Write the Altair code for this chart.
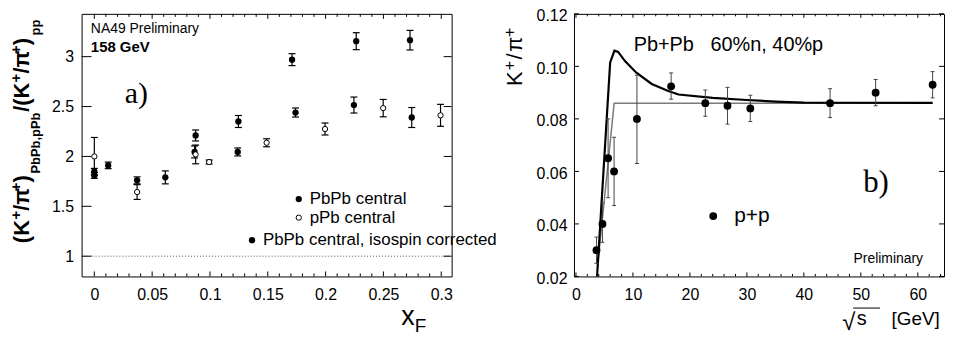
import altair as alt
import pandas as pd

FONT = "Liberation Sans"
SERIF = "Liberation Serif"
NB = "\u00a0"

# ---------------- panel a) data : (K+/pi+) ratio vs x_F ----------------
pbpb_x = [0.0, 0.037, 0.0876, 0.1246, 0.171, 0.2265, 0.273]
pbpb_y = [1.85, 1.76, 2.21, 2.35, 2.97, 3.155, 3.165]
pbpb_e = [0.03, 0.035, 0.055, 0.06, 0.06, 0.085, 0.098]

iso_x = [0.0, 0.012, 0.0614, 0.0867, 0.124, 0.174, 0.2245, 0.2745]
iso_y = [1.81, 1.91, 1.79, 2.045, 2.045, 2.44, 2.515, 2.39]
iso_e = [0.03, 0.033, 0.065, 0.06, 0.04, 0.045, 0.08, 0.1]

ppb_x = [0.0, 0.037, 0.0876, 0.0993, 0.149, 0.1995, 0.2498, 0.2994]
ppb_y = [2.0, 1.643, 2.02, 1.944, 2.137, 2.275, 2.484, 2.412]
ppb_e = [0.19, 0.074, 0.094, 0.02, 0.04, 0.06, 0.087, 0.11]

ref_line = [1.0]

# ---------------- panel b) data : K+/pi+ in p+p vs sqrt(s) ----------------
pp_x = [3.6, 4.65, 5.64, 6.69, 10.7, 16.7, 22.7, 26.6, 30.6, 44.6, 52.6, 62.6]
pp_y = [0.030, 0.040, 0.065, 0.060, 0.080, 0.0924, 0.086, 0.085, 0.084, 0.086, 0.090, 0.093]
pp_lo = [0.025, 0.033, 0.050, 0.047, 0.063, 0.0875, 0.081, 0.078, 0.079, 0.0805, 0.085, 0.088]
pp_hi = [0.035, 0.048, 0.080, 0.073, 0.0966, 0.0975, 0.091, 0.092, 0.089, 0.0915, 0.095, 0.098]

model_x = [3.7, 6.0, 6.75, 7.4, 8.6, 10.6, 13.3, 16.2, 18.0, 24.0, 30.0, 35.0, 40.0, 62.6]
model_y = [0.020, 0.1015, 0.106, 0.1055, 0.102, 0.0976, 0.0933, 0.0906, 0.0893,
           0.0880, 0.0872, 0.0866, 0.0862, 0.0861]
step_x = [3.8, 6.7, 62.6]
step_y = [0.024, 0.086, 0.086]

# ---------------- tick values ----------------
xa_major = [0, 0.05, 0.1, 0.15, 0.2, 0.25, 0.3]
xa_minor = [round(0.01 * i, 2) for i in range(1, 31) if i % 5 != 0]
ya_major = [1, 1.5, 2, 2.5, 3]
xb_major = [0, 10, 20, 30, 40, 50, 60]
xb_minor = [i for i in range(2, 65, 2) if i % 10 != 0]
yb_major = [0.02, 0.04, 0.06, 0.08, 0.10, 0.12]

W, H = 372, 264
A_LEFT, A_TOP, A_H = 80.7, 9.0, 268.0     # reference geometry of panel a
B_LEFT, B_TOP, B_H = 575.3, 8.3, 268.4    # reference geometry of panel b


def xa(px):
    return px - A_LEFT


def ya(py):
    return (py - A_TOP) * H / A_H


def xb(px):
    return px - B_LEFT


def yb(py):
    return (py - B_TOP) * H / B_H


sxa = alt.Scale(domain=[-0.011, 0.309], nice=False, zero=False)
sya = alt.Scale(domain=[0.797, 3.429], nice=False, zero=False)
sxb = alt.Scale(domain=[-0.35, 64.6], nice=False, zero=False)
syb = alt.Scale(domain=[0.02, 0.12], nice=False, zero=False)

common_axis = dict(title=None, ticks=False, tickSize=0, domain=False, grid=False,
                   labelFont=FONT, labelFontSize=16, labelColor="black",
                   labelFlush=False, labelOverlap=False)
axxa = alt.Axis(values=xa_major, format=".2~f", labelPadding=10, **common_axis)
axya = alt.Axis(values=ya_major, format=".1~f", labelPadding=8, **common_axis)
axxb = alt.Axis(values=xb_major, format="d", labelPadding=10, **common_axis)
axyb = alt.Axis(values=yb_major, format=".2f", labelPadding=7, labelOffset=2, **common_axis)


def XA(f):
    return alt.X(f, type="quantitative", scale=sxa, axis=axxa)


def YA(f):
    return alt.Y(f, type="quantitative", scale=sya, axis=axya)


def XB(f):
    return alt.X(f, type="quantitative", scale=sxb, axis=axxb)


def YB(f):
    return alt.Y(f, type="quantitative", scale=syb, axis=axyb)


def one():
    return alt.Data(values=[{}])


def txt(text, x, y, size, font=FONT, weight="normal", angle=0, baseline="middle", align="left"):
    kw = dict(text=text, font=font, fontSize=size, fontWeight=weight, color="black",
              align=align, baseline=baseline)
    if angle:
        kw["angle"] = angle
    return alt.Chart(one()).mark_text(**kw).encode(x=alt.value(x), y=alt.value(y))


def errbars(df, X, Y, color, cap, sw=1.0):
    rule = alt.Chart(df).mark_rule(color=color, strokeWidth=sw).encode(
        x=X("x"), y=Y("lo"), y2=alt.Y2("hi"))
    lo = alt.Chart(df).mark_tick(orient="horizontal", size=cap, thickness=sw, color=color,
                                 opacity=1).encode(x=X("x"), y=Y("lo"))
    hi = alt.Chart(df).mark_tick(orient="horizontal", size=cap, thickness=sw, color=color,
                                 opacity=1).encode(x=X("x"), y=Y("hi"))
    return [rule, lo, hi]


def ticks_x(vals, X, length):
    df = pd.DataFrame({"t": vals})
    bot = alt.Chart(df).mark_rule(color="black", strokeWidth=1).encode(
        x=X("t"), y=alt.value(H), y2=alt.value(H - length))
    top = alt.Chart(df).mark_rule(color="black", strokeWidth=1).encode(
        x=X("t"), y=alt.value(0), y2=alt.value(length))
    return [bot, top]


def ticks_y(vals, Y, left_len, right_len):
    df = pd.DataFrame({"t": vals})
    lft = alt.Chart(df).mark_rule(color="black", strokeWidth=1).encode(
        y=Y("t"), x=alt.value(0), x2=alt.value(left_len))
    rgt = alt.Chart(df).mark_rule(color="black", strokeWidth=1).encode(
        y=Y("t"), x=alt.value(W), x2=alt.value(W - right_len))
    return [lft, rgt]


# ================= panel a =================
d_pbpb = pd.DataFrame({"x": pbpb_x, "y": pbpb_y,
                       "lo": [v - e for v, e in zip(pbpb_y, pbpb_e)],
                       "hi": [v + e for v, e in zip(pbpb_y, pbpb_e)]})
d_iso = pd.DataFrame({"x": iso_x, "y": iso_y,
                      "lo": [v - e for v, e in zip(iso_y, iso_e)],
                      "hi": [v + e for v, e in zip(iso_y, iso_e)]})
d_ppb = pd.DataFrame({"x": ppb_x, "y": ppb_y,
                      "lo": [v - e for v, e in zip(ppb_y, ppb_e)],
                      "hi": [v + e for v, e in zip(ppb_y, ppb_e)]})

layers_a = []
layers_a.append(alt.Chart(pd.DataFrame({"v": ref_line})).mark_rule(
    color="#555", strokeWidth=1, strokeDash=[1, 2]).encode(
    y=YA("v"), x=alt.value(2), x2=alt.value(W - 2)))
layers_a += ticks_x(xa_major, XA, 5) + ticks_x(xa_minor, XA, 3)
layers_a += ticks_y(ya_major, YA, 10, 8)
for d in (d_pbpb, d_iso, d_ppb):
    layers_a += errbars(d, XA, YA, "black", 7, 1.2)
layers_a.append(alt.Chart(d_pbpb).mark_circle(color="black", opacity=1, size=40).encode(
    x=XA("x"), y=YA("y")))
layers_a.append(alt.Chart(d_iso).mark_circle(color="black", opacity=1, size=40).encode(
    x=XA("x"), y=YA("y")))
layers_a.append(alt.Chart(d_ppb).mark_point(shape="circle", filled=True, fill="white",
                                            stroke="black", strokeWidth=1, opacity=1,
                                            size=28).encode(x=XA("x"), y=YA("y")))
# annotations
layers_a.append(txt("NA49 Preliminary", xa(90), ya(24), 14))
layers_a.append(txt("158 GeV", xa(90), ya(43), 15, weight="bold"))
layers_a.append(txt("a)", xa(124), ya(100), 30, font=SERIF, baseline="alphabetic"))
# legend
layers_a.append(alt.Chart(one()).mark_circle(color="black", opacity=1, size=40).encode(
    x=alt.value(xa(299)), y=alt.value(ya(198))))
layers_a.append(alt.Chart(one()).mark_point(shape="circle", filled=True, fill="white",
                                            stroke="black", strokeWidth=1, opacity=1,
                                            size=28).encode(
    x=alt.value(xa(299)), y=alt.value(ya(217))))
layers_a.append(alt.Chart(one()).mark_circle(color="black", opacity=1, size=40).encode(
    x=alt.value(xa(252)), y=alt.value(ya(240))))
layers_a.append(txt("PbPb central", xa(310), ya(198), 17))
layers_a.append(txt("pPb central", xa(310), ya(217), 17))
layers_a.append(txt("PbPb central, isospin corrected", xa(263), ya(240), 17))
# y title pieces (rotated)
MB, SB, UB = xa(28), xa(39), xa(19.5)
for t, base, ystart, size in [
    ("(K", MB, 243, 22), ("+", UB, 219, 15), ("/\u03c0", MB, 210, 22), ("+", UB, 190, 15),
    (")", MB, 181, 22), ("PbPb,pPb", SB, 172, 13),
    ("/(K", MB, 109, 22), ("+", UB, 79, 15), ("/\u03c0", MB, 70, 22), ("+", UB, 50, 15),
    (")", MB, 41, 22), ("pp", SB, 31, 13)]:
    layers_a.append(txt(t, base, ya(ystart), size, weight="bold", angle=270,
                        baseline="alphabetic"))
# x title
layers_a.append(txt("x", xa(402), ya(327), 27, baseline="alphabetic"))
layers_a.append(txt("F", xa(415.5), ya(334), 19, baseline="alphabetic"))

panel_a = alt.layer(*layers_a).properties(width=W, height=H)

# ================= panel b =================
d_pp = pd.DataFrame({"x": pp_x, "y": pp_y, "lo": pp_lo, "hi": pp_hi})
d_model = pd.DataFrame({"x": model_x, "y": model_y})
d_step = pd.DataFrame({"x": step_x, "y": step_y})

layers_b = []
layers_b += ticks_x(xb_major, XB, 4) + ticks_x(xb_minor, XB, 2.5)
layers_b += ticks_y(yb_major, YB, 5, 5)
layers_b.append(alt.Chart(d_step).mark_line(color="#7a7a7a", strokeWidth=1.5).encode(
    x=XB("x"), y=YB("y")))
layers_b.append(alt.Chart(d_model).mark_line(color="black", strokeWidth=2.2).encode(
    x=XB("x"), y=YB("y")))
layers_b += errbars(d_pp, XB, YB, "#444", 4, 1)
layers_b.append(alt.Chart(d_pp).mark_circle(color="black", opacity=1, size=62).encode(
    x=XB("x"), y=YB("y")))
layers_b.append(txt("Pb+Pb" + NB * 3 + "60%n, 40%p", xb(635.3), yb(40), 20))
layers_b.append(txt("b)", xb(866), yb(190), 31, font=SERIF, baseline="alphabetic"))
layers_b.append(alt.Chart(one()).mark_circle(color="black", opacity=1, size=62).encode(
    x=alt.value(xb(715.3)), y=alt.value(yb(215))))
layers_b.append(txt("p+p", xb(736.3), yb(215), 21))
layers_b.append(txt("Preliminary", xb(856.3), yb(259.3), 14))
# y title pieces
BM, BU = xb(523), xb(516)
for t, base, ystart, size in [("K", BM, 82, 22), ("+", BU, 66, 16), ("/", BM, 55, 22),
                              ("\u03c0", BM, 47, 22), ("+", BU, 32, 16)]:
    layers_b.append(txt(t, base, yb(ystart), size, angle=270, baseline="alphabetic"))
# x title
layers_b.append(txt("\u221a", xb(845), yb(331), 24, baseline="alphabetic"))
layers_b.append(alt.Chart(one()).mark_rule(color="black", strokeWidth=1).encode(
    x=alt.value(xb(856)), x2=alt.value(xb(883)), y=alt.value(yb(309))))
layers_b.append(txt("s", xb(859.5), yb(326), 20, baseline="alphabetic"))
layers_b.append(txt("[GeV]", xb(894.5), yb(326), 19, baseline="alphabetic"))

panel_b = alt.layer(*layers_b).properties(width=W, height=H)

chart = alt.hconcat(panel_a, panel_b, spacing=123, bounds="flush").properties(
    padding={"left": 0, "top": -2, "right": 0, "bottom": 0}
).configure_view(stroke="black", strokeWidth=1)

chart.save("out.html", embed_options={"renderer": "svg", "actions": False})
